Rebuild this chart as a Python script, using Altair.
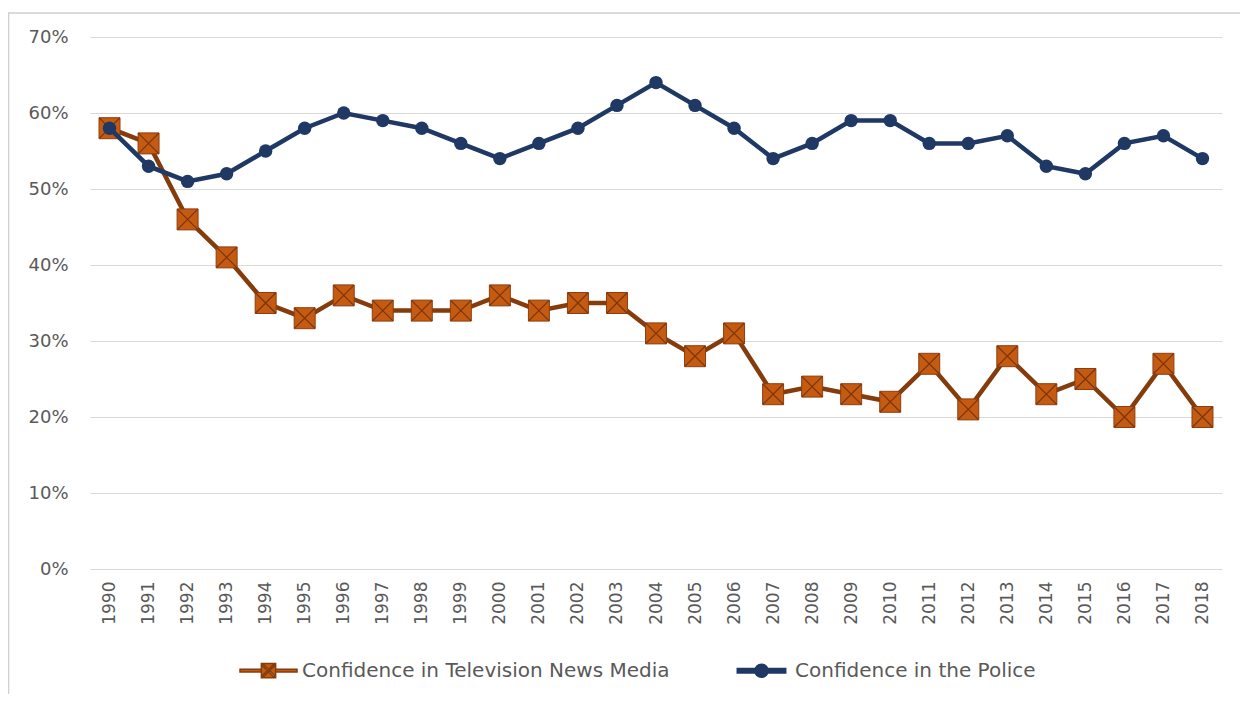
import altair as alt
import pandas as pd

years = ["1990", "1991", "1992", "1993", "1994", "1995", "1996", "1997", "1998", "1999",
         "2000", "2001", "2002", "2003", "2004", "2005", "2006", "2007", "2008", "2009",
         "2010", "2011", "2012", "2013", "2014", "2015", "2016", "2017", "2018"]
police = [58, 53, 51, 52, 55, 58, 60, 59, 58, 56, 54, 56, 58, 61, 64, 61, 58, 54, 56, 59,
          59, 56, 56, 57, 53, 52, 56, 57, 54]
tv = [58, 56, 46, 41, 35, 33, 36, 34, 34, 34, 36, 34, 35, 35, 31, 28, 31, 23, 24, 23,
      22, 27, 21, 28, 23, 25, 20, 27, 20]
y_ticks = [0, 10, 20, 30, 40, 50, 60, 70]

TV = "Confidence in Television News Media"
POL = "Confidence in the Police"

df_tv = pd.DataFrame({"year": years, "value": tv, "series": TV})
df_pol = pd.DataFrame({"year": years, "value": police, "series": POL})
df_all = pd.concat([df_tv, df_pol], ignore_index=True)

FONT = "DejaVu Sans"
TV_LINE = "#843C0C"
TV_FILL = "#C55A11"
POL_COL = "#1F3864"

x_enc = alt.X("year:O", scale=alt.Scale(type="point", padding=0.5),
              axis=alt.Axis(title=None, labelAngle=-90, labelFontSize=17, labelFont=FONT,
                            labelColor="#595959", ticks=False, domain=False, grid=False,
                            labelPadding=12))
y_enc = alt.Y("value:Q", scale=alt.Scale(domain=[0, 70], nice=False),
              axis=alt.Axis(title=None, values=y_ticks, labelExpr="datum.value + '%'",
                            labelFontSize=18, labelFont=FONT, labelColor="#595959",
                            ticks=False, domain=False, grid=True, gridColor="#D9D9D9",
                            gridWidth=1.2, labelPadding=22))

tv_path = ("M-1,-0.05H-0.25V0.05H-1Z M0.25,-0.05H1V0.05H0.25Z "
           "M-0.25,-0.25H0.25V0.25H-0.25Z "
           "M-0.22,-0.18L0.18,0.22L0.22,0.18L-0.18,-0.22Z "
           "M0.22,-0.18L-0.18,0.22L-0.22,0.18L0.18,-0.22Z")
pol_path = ("M-0.85,-0.08H0.85V0.08H-0.85Z "
            "M0.23,0A0.23,0.23 0 1 1 -0.23,0A0.23,0.23 0 1 1 0.23,0Z")

legend = alt.Legend(
    title=None, orient="none", legendX=149, legendY=604, direction="horizontal",
    labelFontSize=20, labelFont=FONT, labelColor="#595959", symbolSize=3249,
    symbolStrokeWidth=1.5, labelOffset=4, columnPadding=62, padding=0, labelLimit=0,
)
dom = [TV, POL]
legend_layer = alt.Chart(df_all).transform_filter("false").mark_point(
    filled=True, opacity=1, strokeWidth=1.5).encode(
    x=x_enc, y=y_enc,
    fill=alt.Fill("series:N", scale=alt.Scale(domain=dom, range=[TV_FILL, POL_COL]), legend=legend),
    stroke=alt.Stroke("series:N", scale=alt.Scale(domain=dom, range=[TV_LINE, POL_COL]), legend=legend),
    shape=alt.Shape("series:N", scale=alt.Scale(domain=dom, range=[tv_path, pol_path]), legend=legend),
)

tv_line = alt.Chart(df_tv).mark_line(strokeWidth=4.5, color=TV_LINE).encode(x=x_enc, y=y_enc)
tv_sq = alt.Chart(df_tv).mark_square(size=440, color=TV_FILL, stroke="#8B3E0F",
                                     strokeWidth=1, opacity=1).encode(x=x_enc, y=y_enc)
tv_x = alt.Chart(df_tv).mark_point(shape="M-1,-1L1,1M-1,1L1,-1", size=420, filled=False,
                                   color="#7A3510", strokeWidth=1.2, opacity=1).encode(x=x_enc, y=y_enc)
pol_line = alt.Chart(df_pol).mark_line(strokeWidth=4.5, color=POL_COL).encode(x=x_enc, y=y_enc)
pol_pt = alt.Chart(df_pol).mark_circle(size=180, color=POL_COL, opacity=1).encode(x=x_enc, y=y_enc)

frame = alt.Chart(pd.DataFrame({"f": [0]})).mark_rect(
    fill="transparent", stroke="#D0D0D0", strokeWidth=1.5).encode(
    x=alt.value(-81.5), x2=alt.value(1160), y=alt.value(-24), y2=alt.value(700))

chart = alt.layer(frame, legend_layer, tv_line, tv_sq, tv_x, pol_line, pol_pt).properties(
    width=1132, height=532,
    autosize=alt.AutoSizeParams(type="none"),
    padding={"left": 82, "top": 29, "right": 18, "bottom": 125},
    background="white",
).configure_view(stroke=None)

chart.save("out.html", embed_options={"renderer": "svg", "actions": False})
